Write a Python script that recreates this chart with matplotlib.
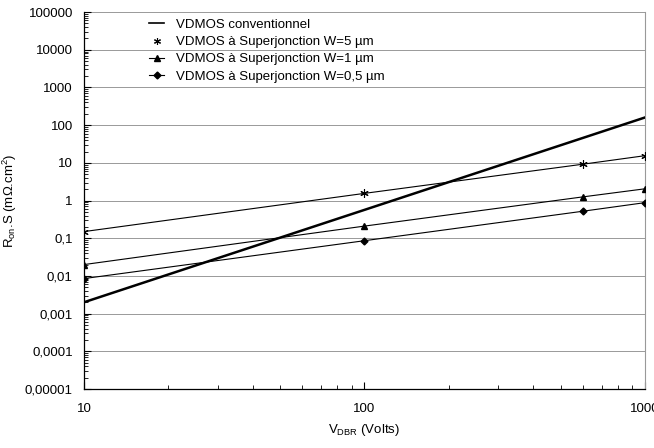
import matplotlib
matplotlib.use('Agg')
import matplotlib.pyplot as plt
import matplotlib.ticker as mticker
from matplotlib.lines import Line2D

plt.rcParams['font.family'] = ['Liberation Sans', 'DejaVu Sans']
plt.rcParams['mathtext.fontset'] = 'custom'
plt.rcParams['mathtext.rm'] = 'Liberation Sans'
plt.rcParams['mathtext.it'] = 'Liberation Sans'

# data
v_conv = [10, 1000]
r_conv = [0.002, 160]

v_sj = [10, 100, 600, 1000]
r_w5 = [0.15, 1.55, 9.2, 15.5]
r_w1 = [0.02, 0.21, 1.25, 2.05]
r_w05 = [0.0085, 0.086, 0.52, 0.88]

labels = ["VDMOS conventionnel",
          "VDMOS à Superjonction W=5 µm",
          "VDMOS à Superjonction W=1 µm",
          "VDMOS à Superjonction W=0,5 µm"]

ytick_vals = [1e-5, 1e-4, 1e-3, 1e-2, 1e-1, 1, 10, 100, 1000, 10000, 100000]
ytick_labels = ["0,00001", "0,0001", "0,001", "0,01", "0,1", "1", "10",
                "100", "1000", "10000", "100000"]
xtick_vals = [10, 100, 1000]
xtick_labels = ["10", "100", "1000"]

fig = plt.figure(figsize=(6.54, 4.48), dpi=100)
ax = fig.add_axes([0.1284, 0.1317, 0.8578, 0.8413])

ax.plot(v_conv, r_conv, color='black', lw=1.8, zorder=4)
ax.plot(v_sj, r_w5, color='black', lw=0.8, marker=(6, 2, 0), ms=6,
        mew=0.8, zorder=4)
ax.plot(v_sj, r_w1, color='black', lw=0.8, marker='^', ms=5, zorder=4)
ax.plot(v_sj, r_w05, color='black', lw=0.8, marker='D', ms=3.5, zorder=4)

ax.set_xscale('log')
ax.set_yscale('log')
ax.set_xlim(10, 1000)
ax.set_ylim(1e-5, 1e5)

ax.set_yticks(ytick_vals)
ax.set_yticklabels(ytick_labels, fontsize=9.5)
ax.set_xticks(xtick_vals)
ax.set_xticklabels(xtick_labels, fontsize=9.5)
ax.yaxis.set_minor_locator(mticker.LogLocator(base=10, subs=range(2, 10), numticks=20))
ax.xaxis.set_minor_locator(mticker.LogLocator(base=10, subs=range(2, 10), numticks=20))
ax.yaxis.set_minor_formatter(mticker.NullFormatter())
ax.xaxis.set_minor_formatter(mticker.NullFormatter())
ax.tick_params(axis='both', which='major', direction='in', length=5, width=0.8,
               pad=8, colors='black')
ax.tick_params(axis='both', which='minor', direction='in', length=3, width=0.6)
ax.tick_params(axis='x', which='major', pad=10)

ax.grid(axis='y', which='major', color='#999999', lw=0.7, zorder=0)
ax.spines['top'].set_visible(False)
ax.spines['right'].set_color('#999999')
ax.spines['left'].set_linewidth(0.9)
ax.spines['bottom'].set_linewidth(0.9)

ax.set_xlabel("V$_{\\mathrm{DBR}}$ (Volts)", fontsize=9.5, labelpad=5)
ax.set_ylabel("R$_{\\mathrm{on}}$.S (mΩ.cm$^{2}$)", fontsize=9.5, labelpad=4)

handles = [
    Line2D([], [], color='black', lw=1.2),
    Line2D([], [], color='black', lw=0, marker=(6, 2, 0), ms=5, mew=0.8),
    Line2D([], [], color='black', lw=0.8, marker='^', ms=5),
    Line2D([], [], color='black', lw=0.8, marker='D', ms=3.5),
]
ax.legend(handles, labels, loc='upper left', bbox_to_anchor=(0.105, 1.0),
          frameon=False, fontsize=9.5, handlelength=1.1, handletextpad=0.9,
          labelspacing=0.38, borderpad=0)

fig.savefig('out.png', dpi=100)
